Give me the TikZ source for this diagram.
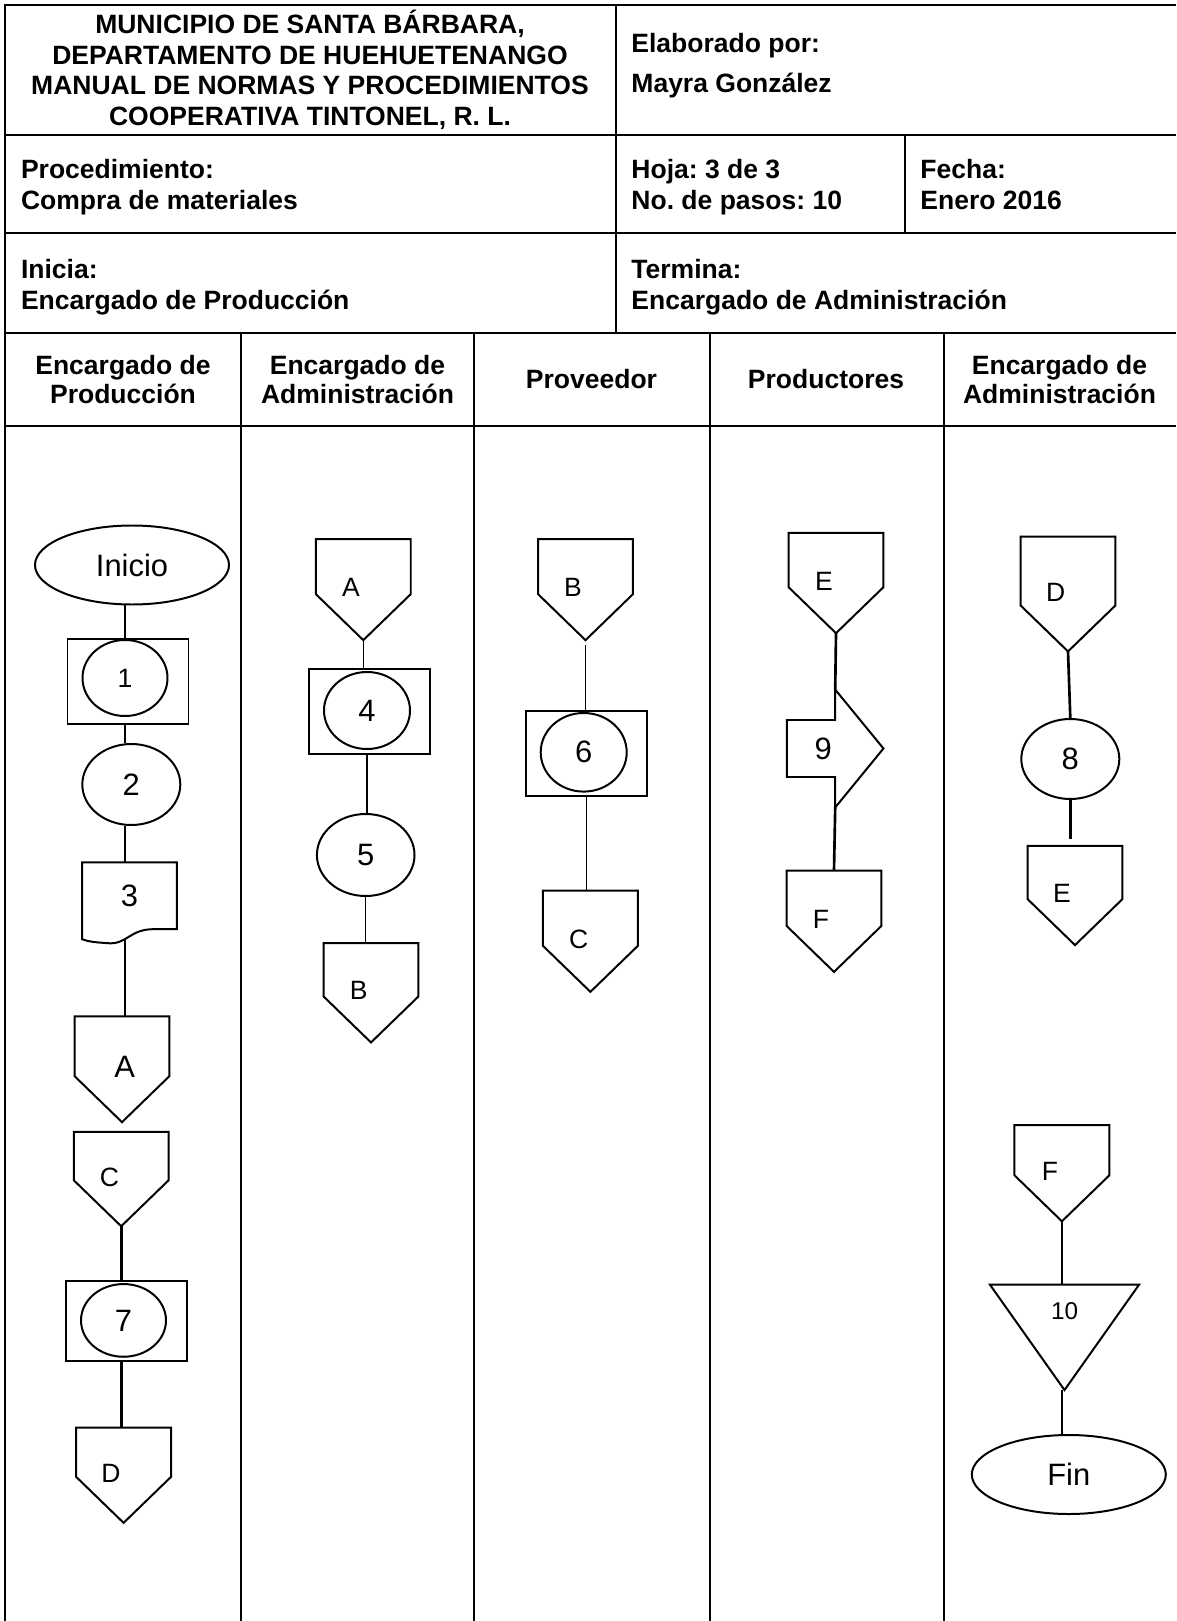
\documentclass[tikz,border=0pt]{standalone}
\usepackage{fontspec}
\setmainfont{Liberation Sans}
\usetikzlibrary{calc,positioning,backgrounds,shapes.geometric}

\newdimen\pxunit
\pxunit=0.4528pt
\frenchspacing

\begin{document}
\begin{tikzpicture}[x=0.4528pt,y=-0.4528pt]

\tikzset{frame/.style={line width=0.9pt},
hdtext/.style={font=\bfseries\fontsize{12}{13.8}\selectfont,inner sep=0pt},
lanetitle/.style={font=\bfseries\fontsize{12}{13.1}\selectfont,align=center,inner sep=0pt},
outline/.style={draw,line width=0.9pt,fill=white},
lbl/.style={font=\fontsize{12}{14}\selectfont,inner sep=0pt},
terminal/.style={outline,ellipse,inner sep=0pt,minimum width=194\pxunit,minimum height=79\pxunit,font=\fontsize{14}{16}\selectfont},
stepcirc/.style={outline,ellipse,inner sep=0pt,minimum width=98\pxunit,minimum height=81\pxunit,font=\fontsize{14}{16}\selectfont},
stepbox/.style={outline,rectangle,inner sep=0pt,minimum width=121\pxunit,minimum height=85\pxunit},
innercirc/.style={outline,ellipse,inner sep=0pt,minimum width=86\pxunit,minimum height=77\pxunit,font=\fontsize{14}{16}\selectfont},
offpage/.style n args={3}{inner sep=0pt,minimum width=94\pxunit,minimum height=#1\pxunit,
  append after command={\pgfextra{\draw[outline] (\tikzlastnode.north west) -- (\tikzlastnode.north east)
    -- ($(\tikzlastnode.south east)+(0,-46)$) -- (\tikzlastnode.south)
    -- ($(\tikzlastnode.south west)+(0,-46)$) -- cycle;}},
  label={[lbl,xshift=#2\pxunit,yshift=2\pxunit]center:#3}},
docshape/.style={inner sep=0pt,minimum width=94\pxunit,minimum height=66\pxunit,
  append after command={\pgfextra{\draw[outline] ($(\tikzlastnode.south west)+(0,10)$) -- (\tikzlastnode.north west)
    -- (\tikzlastnode.north east) -- (\tikzlastnode.south east) -- ($(\tikzlastnode.south east)+(-23,0)$)
    .. controls +(-25,0) and +(20,2) .. ($(\tikzlastnode.south west)+(25,14)$)
    .. controls +(-12,-1) and +(8,3) .. ($(\tikzlastnode.south west)+(0,10)$) -- cycle;}},
  label={[lbl,font=\fontsize{14}{16}\selectfont]center:#1}},
movearrow/.style={inner sep=0pt,minimum width=95.6\pxunit,minimum height=117\pxunit,
  append after command={\pgfextra{\draw[outline] ($(\tikzlastnode.west)+(0,-28.5)$) -- ($(\tikzlastnode.center)+(0,-28.5)$)
    -- (\tikzlastnode.north) -- (\tikzlastnode.east) -- (\tikzlastnode.south)
    -- ($(\tikzlastnode.center)+(0,28.5)$) -- ($(\tikzlastnode.west)+(0,28.5)$) -- cycle;}},
  label={[lbl,xshift=-12\pxunit,font=\fontsize{14}{16}\selectfont]center:#1}},
tristep/.style={inner sep=0pt,minimum width=148.4\pxunit,minimum height=104.6\pxunit,
  append after command={\pgfextra{\draw[outline] (\tikzlastnode.north west) -- (\tikzlastnode.north east)
    -- (\tikzlastnode.south) -- cycle;}},
  label={[lbl,yshift=26.6\pxunit,font=\fontsize{11}{13}\selectfont]center:#1}},
link/.style={line width=1.2pt},
thinlink/.style={line width=0.6pt}}

\useasboundingbox (0,0) rectangle (1176,1621);

% Frame
\draw[frame] (1176,5) -- (5,5) -- (5,1621);
\foreach \y in {135,233,333,426} \draw[frame] (5,\y) -- (1176,\y);
\draw[frame] (615.5,5) -- (615.5,333);
\draw[frame] (905,135) -- (905,233);
\foreach \x in {241,474,709.5,943.5} \draw[frame] (\x,333) -- (\x,1621); % lanes

% Header
\node[hdtext,align=center] (title) at (310,70) {MUNICIPIO DE SANTA BÁRBARA,\\DEPARTAMENTO DE HUEHUETENANGO\\MANUAL DE NORMAS Y PROCEDIMIENTOS\\COOPERATIVA TINTONEL, R. L.};
\node[hdtext,align=left,anchor=west,font=\bfseries\fontsize{12}{18.1}\selectfont] (autor) at (631,66) {Elaborado por:\\Mayra González};
\node[hdtext,align=left,anchor=west] (proc) at (20.6,187) {Procedimiento:\\Compra de materiales};
\node[hdtext,align=left,anchor=west] (hoja) at (631,187) {Hoja: 3 de 3\\No. de pasos: 10};
\node[hdtext,align=left,anchor=west] (fecha) at (920,184.5) {Fecha:\\Enero 2016};
\node[hdtext,align=left,anchor=west] (inicia) at (20.6,287) {Inicia:\\Encargado de Producción};
\node[hdtext,align=left,anchor=west] (termina) at (631,287) {Termina:\\Encargado de Administración};

% Lane titles
\node[lanetitle] (lane1) at (123,379.5) {Encargado de\\Producción};
\node[lanetitle] (lane2) at (357.5,379.5) {Encargado de\\Administración};
\node[lanetitle] (lane3) at (591.5,379.5) {Proveedor};
\node[lanetitle] (lane4) at (826,379.5) {Productores};
\node[lanetitle] (lane5) at (1059.5,379.5) {Encargado de\\Administración};

% Encargado de Produccion
\node[terminal] (inicio) at (132,565) {Inicio};
\node[stepbox] (r1) at (128,681.6) {};
\node[innercirc,minimum width=85\pxunit,minimum height=76\pxunit,font=\fontsize{12}{14}\selectfont] (c1) at (125,678) {1};
\node[stepcirc] (e2) at (131.3,784.5) {2};
\node[docshape=3] (d3) at (129.5,895.7) {};
\node[offpage={105}{2.8}{\fontsize{14}{16}\selectfont A}] (oA1) at (122,1069.2) {};
\node[offpage={93.4}{-11.7}{C}] (oC1) at (121.2,1179.1) {};
\node[stepbox,minimum height=80\pxunit] (r7) at (126.4,1321) {};
\node[innercirc,minimum width=85\pxunit,minimum height=72.7\pxunit] (c7) at (123.5,1320.4) {7};
\node[offpage={94.4}{-12.6}{D}] (oD1) at (123.6,1475.2) {};

% Encargado de Administracion
\node[offpage={100.2}{-12.3}{A}] (oA2) at (363.3,589.6) {};
\node[stepbox] (r4) at (369.2,711.5) {};
\node[innercirc] (c4) at (367,710.5) {4};
\node[stepcirc,minimum width=97.6\pxunit,minimum height=82\pxunit] (e5) at (365.7,855) {5};
\node[offpage={98.4}{-12.4}{B}] (oB2) at (371,992.8) {};

% Proveedor
\node[offpage={100.2}{-12.6}{B}] (oB3) at (585.5,589.6) {};
\node[stepbox] (r6) at (586.5,753.6) {};
\node[innercirc,minimum height=78.6\pxunit] (c6) at (583.7,752.3) {6};
\node[offpage={100.4}{-11.8}{C}] (oC3) at (590.4,941.2) {};

% Productores
\node[offpage={99.5}{-12}{E}] (oE4) at (836,583) {};
\node[movearrow=9] (a9) at (835.2,748.5) {};
\node[offpage={100.5}{-13}{F}] (oF4) at (834,921.2) {};

% Encargado de Administracion (fin)
\node[offpage={114}{-12.3}{D}] (oD5) at (1068,594) {};
\node[stepcirc,minimum height=80\pxunit] (e8) at (1070.3,759) {8};
\node[offpage={98.3}{-13}{E}] (oE5) at (1075,895.5) {};
\node[offpage={95.3}{-12}{F}] (oF5) at (1061.9,1173.2) {};
\node[tristep=10] (t10) at (1064.5,1337.3) {};
\node[terminal] (fin) at (1068.8,1474.5) {Fin};

% Edges
\begin{scope}[on background layer]
\draw[link] (inicio.south -| c1) -- (r1.north -| c1); \draw[link] (r1.south -| c1) -- (e2.north -| c1);
\draw[link] (e2.south -| c1) -- (d3.north -| c1); \draw[link] (d3.south -| c1) -- (oA1.north -| c1);
\draw[link] (oC1.south) -- (r7.north -| oC1.south); \draw[link] (r7.south -| oC1.south) -- (oD1.north -| oC1.south);
\draw[thinlink] (oA2.south) -- (r4.north -| oA2.south); \draw[thinlink] (r4.south -| c4) -- (e5.north -| c4);
\draw[thinlink] (e5.south) -- (oB2.north -| e5.south);
\draw[thinlink,shorten <=5\pxunit] (oB3.south) -- (r6.north -| oB3.south); \draw[thinlink] (r6.south) -- (oC3.north -| r6.south);
\draw[link] (oE4.south) -- (a9.north); \draw[link] (a9.south) -- (oF4.north);
\draw[link] (oD5.south) -- (e8.north); \draw[link,shorten >=7\pxunit] (e8.south) -- (oE5.north -| e8.south);
\draw[link] (oF5.south) -- (t10.north -| oF5.south); \draw[link] (t10.south -| oF5.south) -- (fin.north -| oF5.south);
\end{scope}

\end{tikzpicture}
\end{document}
